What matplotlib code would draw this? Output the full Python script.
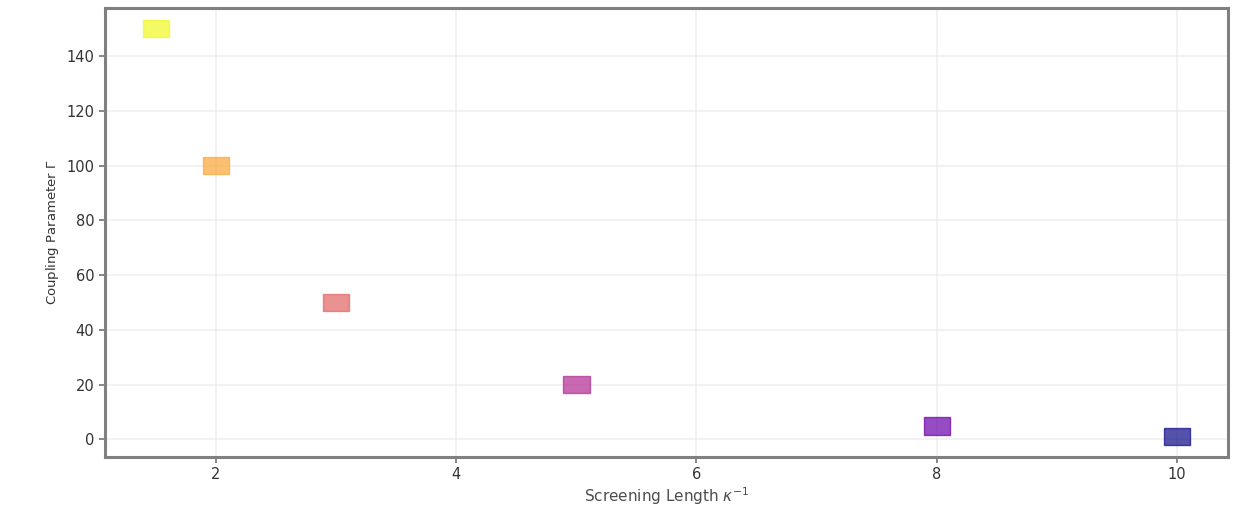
import numpy as np
import matplotlib
matplotlib.use("Agg")
import matplotlib.pyplot as plt
from matplotlib.path import Path

# screening length vs coupling parameter
kappa_inv = [1.5, 2, 3, 5, 8, 10]
gamma = [150, 100, 50, 20, 5, 1]

plt.rcParams.update({
    "font.family": "DejaVu Sans",
    "axes.edgecolor": "0.5",
    "xtick.color": "0.45",
    "ytick.color": "0.45",
    "xtick.labelcolor": "0.2",
    "ytick.labelcolor": "0.2",
})

# wide rectangular marker
rect = Path([(-1.5, -1), (1.5, -1), (1.5, 1), (-1.5, 1), (-1.5, -1)],
            [Path.MOVETO, Path.LINETO, Path.LINETO, Path.LINETO, Path.CLOSEPOLY])

colors = plt.cm.plasma(np.linspace(1, 0, len(kappa_inv)))

fig = plt.figure(figsize=(12.33, 5.09), dpi=100)
ax = fig.add_axes([0.085, 0.102, 0.911, 0.882])

ax.scatter(kappa_inv, gamma, c=colors, marker=rect, s=19 ** 2, alpha=0.7,
           edgecolors=colors, linewidths=1.0, zorder=3)

ax.set_xlabel(r"Screening Length $\kappa^{-1}$", fontsize=11, color="0.3",
              labelpad=2)
ax.set_ylabel(r"Coupling Parameter $\Gamma$", fontsize=9.5, color="0.2")
ax.set_yticks([0, 20, 40, 60, 80, 100, 120, 140])
ax.set_xticks([2, 4, 6, 8, 10])
ax.tick_params(labelsize=10.5, length=4, width=1.2)
ax.grid(True, color="0.9", alpha=0.6, linewidth=1.2)
ax.set_axisbelow(True)
for spine in ax.spines.values():
    spine.set_linewidth(2.2)

fig.savefig("out.png", dpi=100)
